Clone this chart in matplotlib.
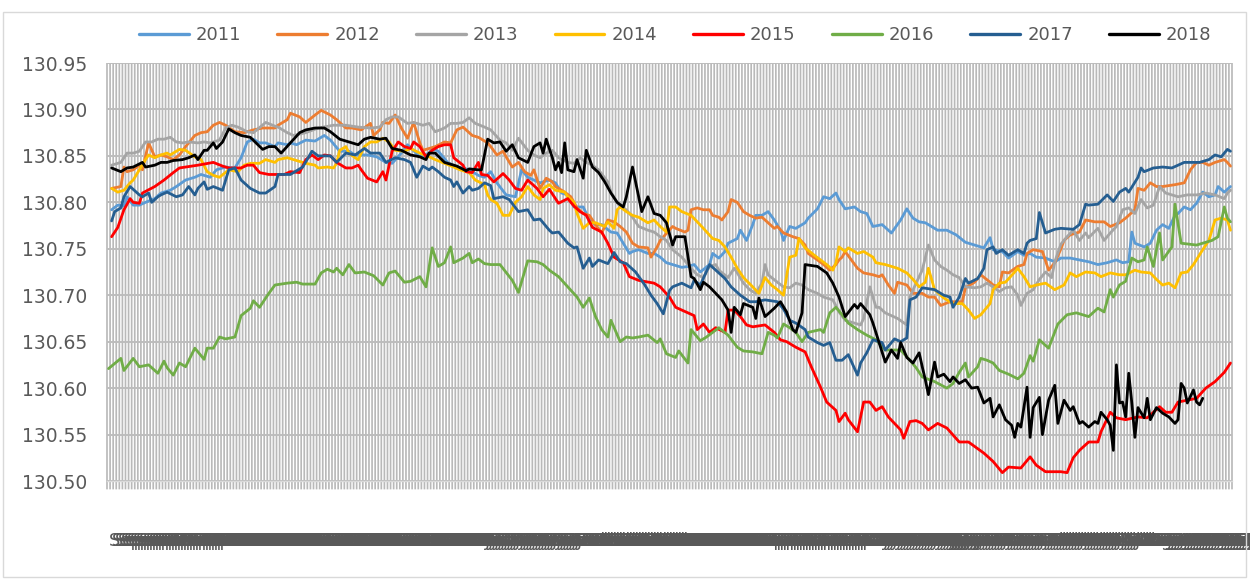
import matplotlib
matplotlib.use("Agg")
import matplotlib.pyplot as plt
from matplotlib.patches import Rectangle
import numpy as np

# ---------------- data (day index within the year, level) ----------------
years = ["2011", "2012", "2013", "2014", "2015", "2016", "2017", "2018"]
colors = ["#5B9BD5", "#ED7D31", "#A5A5A5", "#FFC000", "#FF0000", "#70AD47", "#255E91", "#000000"]

months = ["Sep", "Oct", "Nov", "Dec", "Jan", "Feb", "Mar", "Apr", "May", "Jun", "Jul", "Aug"]
month_days = [30, 31, 30, 31, 31, 28, 31, 30, 31, 30, 31, 31]

y_ticks = [130.50, 130.55, 130.60, 130.65, 130.70, 130.75, 130.80, 130.85, 130.90, 130.95]

s2011 = [(1,130.792),(3,130.797),(5,130.796),(6,130.806),(8,130.797),(10,130.797),(12,130.800),(15,130.804),
         (17,130.810),(20,130.813),(22,130.817),(25,130.824),(28,130.827),(30,130.830),(33,130.827),(35,130.835),
         (38,130.838),(41,130.837),(43,130.848),(45,130.865),(47,130.868),(49,130.864),(51,130.864),(54,130.860),
         (55,130.864),(58,130.862),(59,130.864),(61,130.862),(64,130.867),(67,130.866),(70,130.872),(72,130.867),
         (75,130.855),(78,130.855),(80,130.851),(84,130.851),(87,130.849),(90,130.843),(92,130.842),(95,130.853),
         (97,130.862),(101,130.849),(104,130.853),(105,130.858),(107,130.855),(110,130.843),(113,130.838),(115,130.837),
         (117,130.835),(120,130.829),(122,130.827),(124,130.833),(126,130.821),(129,130.808),(132,130.806),(134,130.835),
         (136,130.827),(138,130.824),(140,130.821),(143,130.824),(145,130.821),(147,130.810),(149,130.808),(151,130.795),
         (154,130.795),(156,130.781),(158,130.776),(160,130.776),(163,130.768),(165,130.767),(167,130.756),(169,130.745),
         (170,130.747),(172,130.749),(175,130.745),(177,130.745),(179,130.741),(181,130.735),(183,130.733),(186,130.730),
         (188,130.731),(190,130.733),(192,130.725),(195,130.733),(196,130.745),(198,130.740),(200,130.747),(201,130.756),
         (204,130.761),(205,130.770),(207,130.759),(209,130.776),(210,130.786),(212,130.786),(214,130.790),(216,130.781),
         (218,130.770),(219,130.759),(221,130.774),(223,130.772),(226,130.778),(227,130.783),(230,130.793),(232,130.806),
         (234,130.804),(236,130.810),(237,130.803),(239,130.793),(242,130.795),(244,130.790),(246,130.788),(248,130.774),
         (251,130.776),(254,130.767),(257,130.781),(259,130.793),(261,130.783),(263,130.779),(265,130.778),(269,130.770),
         (272,130.770),(275,130.765),(278,130.757),(281,130.754),(284,130.751),(286,130.762),(287,130.749),(290,130.747),
         (292,130.740),(295,130.747),(297,130.743),(299,130.745),(301,130.741),(304,130.740),(307,130.736),(309,130.740),
         (312,130.740),(315,130.738),(318,130.736),(321,130.733),(324,130.735),(327,130.738),(329,130.735),(331,130.736),
         (332,130.768),(333,130.756),(336,130.752),(338,130.756),(340,130.770),(342,130.776),(344,130.772),(346,130.786),
         (347,130.788),(349,130.795),(351,130.792),(353,130.799),(355,130.811),(357,130.806),(359,130.808),(360,130.817),
         (362,130.811),(364,130.817)]

s2012 = [(1,130.815),(4,130.817),(5,130.838),(6,130.833),(8,130.835),(10,130.840),(11,130.835),(13,130.864),
         (15,130.849),(17,130.851),(19,130.849),(21,130.846),(23,130.851),(25,130.860),(28,130.872),(30,130.875),
         (32,130.876),(34,130.883),(36,130.886),(38,130.883),(41,130.876),(44,130.875),(47,130.878),(50,130.880),
         (54,130.880),(55,130.883),(58,130.889),(59,130.896),(62,130.892),(64,130.886),(67,130.894),(69,130.899),
         (72,130.894),(74,130.889),(77,130.880),(79,130.880),(82,130.878),(85,130.885),(86,130.872),(88,130.878),
         (89,130.886),(91,130.885),(93,130.894),(95,130.880),(97,130.869),(99,130.886),(101,130.864),(102,130.856),
         (104,130.858),(106,130.860),(109,130.865),(111,130.864),(113,130.878),(115,130.881),(116,130.878),(118,130.872),
         (120,130.870),(123,130.864),(124,130.860),(126,130.851),(128,130.855),(129,130.849),(131,130.838),(133,130.843),
         (135,130.833),(137,130.829),(138,130.835),(140,130.815),(142,130.826),(144,130.822),(145,130.817),(148,130.811),
         (150,130.806),(152,130.794),(154,130.788),(156,130.786),(158,130.776),(160,130.767),(162,130.781),(164,130.779),
         (166,130.774),(168,130.768),(170,130.756),(172,130.752),(175,130.751),(176,130.741),(178,130.752),(179,130.759),
         (183,130.774),(184,130.772),(187,130.768),(188,130.770),(189,130.792),(191,130.794),(193,130.792),(195,130.792),
         (196,130.786),(198,130.784),(199,130.781),(201,130.790),(202,130.803),(204,130.800),(206,130.790),(208,130.786),
         (210,130.783),(212,130.784),(213,130.781),(216,130.772),(217,130.774),(219,130.767),(222,130.763),(224,130.761),
         (226,130.754),(227,130.745),(230,130.738),(232,130.733),(234,130.727),(236,130.733),(237,130.738),(238,130.741),
         (239,130.747),(241,130.738),(243,130.729),(245,130.724),(248,130.722),(250,130.720),(251,130.722),(253,130.711),
         (255,130.702),(256,130.714),(259,130.711),(261,130.702),(264,130.702),(266,130.698),(268,130.698),(270,130.689),
         (273,130.693),(275,130.693),(277,130.693),(278,130.708),(281,130.714),(283,130.722),(286,130.714),(287,130.711),
         (289,130.709),(290,130.725),(292,130.724),(295,130.731),(297,130.733),(298,130.745),(300,130.749),(303,130.747),
         (305,130.727),(307,130.735),(309,130.750),(310,130.759),(312,130.765),(315,130.768),(317,130.781),(320,130.779),
         (323,130.779),(325,130.774),(328,130.778),(330,130.783),(333,130.792),(334,130.815),(336,130.813),(338,130.821),
         (340,130.817),(342,130.817),(346,130.819),(349,130.821),(351,130.835),(353,130.843),(355,130.843),(357,130.840),
         (359,130.843),(362,130.846),(363,130.843),(364,130.839)]

s2013 = [(1,130.840),(4,130.843),(6,130.853),(8,130.853),(10,130.855),(12,130.865),(14,130.865),(16,130.868),
         (18,130.868),(20,130.870),(22,130.865),(24,130.864),(26,130.865),(29,130.864),(31,130.865),(33,130.864),
         (36,130.867),(38,130.880),(40,130.883),(42,130.881),(45,130.876),(47,130.875),(51,130.886),(54,130.882),
         (55,130.881),(58,130.875),(60,130.872),(64,130.875),(68,130.880),(73,130.883),(77,130.883),(81,130.881),
         (85,130.880),(88,130.881),(90,130.889),(92,130.892),(94,130.892),(97,130.885),(99,130.886),(102,130.883),
         (104,130.885),(106,130.876),(109,130.880),(111,130.885),(113,130.885),(115,130.886),(117,130.891),(119,130.885),
         (122,130.881),(124,130.878),(127,130.867),(129,130.864),(131,130.856),(133,130.869),(136,130.856),(138,130.851),
         (140,130.848),(142,130.853),(144,130.856),(146,130.848),(149,130.843),(151,130.842),(153,130.848),(155,130.843),
         (157,130.840),(159,130.835),(162,130.822),(163,130.811),(165,130.800),(166,130.795),(168,130.792),(170,130.784),
         (172,130.774),(175,130.770),(177,130.768),(179,130.763),(181,130.759),(183,130.749),(186,130.741),(189,130.729),
         (191,130.722),(193,130.719),(195,130.731),(197,130.733),(198,130.727),(201,130.719),(203,130.729),(204,130.724),
         (206,130.713),(208,130.706),(210,130.702),(212,130.713),(213,130.733),(214,130.722),(217,130.714),(219,130.709),
         (221,130.708),(223,130.713),(225,130.711),(227,130.706),(230,130.702),(232,130.698),(235,130.695),(237,130.682),
         (239,130.673),(242,130.670),(244,130.668),(245,130.675),(247,130.709),(249,130.687),(250,130.687),(252,130.681),
         (256,130.675),(259,130.668),(260,130.698),(262,130.713),(264,130.727),(266,130.754),(268,130.738),(270,130.731),
         (272,130.727),(274,130.722),(276,130.719),(278,130.709),(281,130.708),(283,130.709),(285,130.713),(287,130.709),
         (289,130.704),(291,130.708),(293,130.709),(295,130.700),(296,130.689),(298,130.702),(300,130.706),(302,130.717),
         (304,130.725),(306,130.719),(307,130.736),(309,130.755),(311,130.763),(313,130.770),(315,130.759),(317,130.767),
         (318,130.762),(321,130.772),(323,130.759),(325,130.767),(327,130.774),(329,130.792),(331,130.794),(333,130.788),
         (335,130.803),(337,130.794),(339,130.797),(341,130.817),(343,130.810),(347,130.806),(350,130.808),(353,130.808),
         (356,130.810),(359,130.808),(362,130.804),(363,130.810),(364,130.813)]

s2014 = [(1,130.815),(3,130.811),(5,130.813),(7,130.821),(8,130.824),(10,130.835),(12,130.846),(13,130.851),
         (15,130.848),(17,130.851),(19,130.853),(20,130.851),(23,130.857),(25,130.856),(28,130.849),(30,130.846),
         (32,130.833),(34,130.829),(36,130.827),(39,130.835),(42,130.833),(44,130.840),(46,130.842),(49,130.842),
         (51,130.846),(54,130.843),(55,130.846),(58,130.848),(60,130.846),(64,130.842),(67,130.840),(68,130.837),
         (71,130.838),(73,130.837),(74,130.842),(75,130.856),(77,130.860),(78,130.853),(80,130.848),(81,130.846),
         (83,130.860),(85,130.865),(87,130.865),(89,130.869),(91,130.865),(93,130.856),(96,130.855),(98,130.858),
         (101,130.853),(104,130.849),(106,130.846),(109,130.842),(112,130.838),(114,130.835),(117,130.832),(119,130.824),
         (122,130.819),(123,130.808),(124,130.803),(126,130.799),(128,130.786),(130,130.786),(132,130.800),(134,130.806),
         (136,130.817),(138,130.808),(140,130.803),(141,130.815),(143,130.819),(145,130.813),(148,130.811),(149,130.806),
         (151,130.800),(152,130.788),(154,130.772),(156,130.778),(158,130.778),(161,130.774),(162,130.779),(164,130.772),
         (165,130.792),(166,130.795),(168,130.790),(170,130.786),(172,130.784),(175,130.778),(177,130.781),(179,130.774),
         (181,130.768),(182,130.795),(184,130.795),(186,130.790),(189,130.786),(191,130.779),(193,130.772),(196,130.761),
         (198,130.759),(200,130.752),(202,130.741),(204,130.729),(206,130.719),(209,130.709),(211,130.702),(213,130.719),
         (215,130.711),(217,130.706),(219,130.700),(221,130.741),(223,130.743),(224,130.761),(226,130.751),(229,130.743),
         (231,130.738),(233,130.733),(235,130.727),(236,130.735),(237,130.752),(239,130.747),(240,130.751),(243,130.745),
         (245,130.747),(248,130.741),(249,130.735),(252,130.733),(256,130.729),(259,130.724),(261,130.717),(263,130.709),
         (265,130.714),(266,130.729),(268,130.706),(271,130.697),(274,130.691),(277,130.691),(279,130.684),(281,130.675),
         (283,130.679),(286,130.691),(287,130.706),(289,130.713),(291,130.714),(294,130.725),(295,130.729),(297,130.720),
         (299,130.709),(301,130.711),(304,130.713),(307,130.706),(310,130.711),(312,130.724),(314,130.720),(317,130.725),
         (320,130.724),(322,130.720),(325,130.724),(328,130.722),(330,130.722),(333,130.727),(335,130.725),(338,130.724),
         (340,130.717),(342,130.711),(344,130.713),(346,130.708),(348,130.724),(350,130.725),(352,130.733),(355,130.749),
         (357,130.759),(359,130.781),(361,130.783),(363,130.781),(364,130.770)]

s2015 = [(1,130.763),(3,130.773),(5,130.792),(7,130.804),(8,130.800),(10,130.799),(11,130.810),(15,130.817),
         (18,130.824),(21,130.832),(23,130.837),(25,130.838),(29,130.840),(34,130.843),(37,130.839),(39,130.837),
         (43,130.837),(45,130.840),(47,130.840),(49,130.832),(52,130.830),(57,130.830),(59,130.833),(62,130.832),
         (64,130.846),(66,130.851),(68,130.846),(70,130.851),(72,130.850),(74,130.843),(77,130.837),(79,130.837),
         (81,130.840),(82,130.835),(84,130.826),(87,130.822),(89,130.833),(90,130.824),(92,130.855),(94,130.865),
         (96,130.860),(98,130.858),(99,130.865),(101,130.860),(103,130.849),(105,130.856),(107,130.860),(109,130.862),
         (111,130.862),(112,130.848),(115,130.840),(116,130.833),(118,130.832),(120,130.843),(121,130.830),(123,130.829),
         (125,130.822),(128,130.831),(130,130.824),(132,130.815),(134,130.813),(136,130.824),(139,130.815),(141,130.806),
         (143,130.814),(145,130.804),(146,130.799),(149,130.804),(151,130.796),(153,130.790),(155,130.786),(157,130.773),
         (160,130.768),(162,130.756),(164,130.741),(167,130.735),(169,130.720),(172,130.716),(177,130.713),(179,130.709),
         (182,130.698),(184,130.687),(188,130.681),(190,130.678),(191,130.663),(193,130.669),(195,130.660),(197,130.665),
         (200,130.660),(201,130.684),(203,130.684),(205,130.677),(207,130.668),(209,130.666),(213,130.668),(216,130.660),
         (218,130.652),(220,130.650),(223,130.644),(226,130.639),(228,130.623),(231,130.601),(233,130.585),(236,130.576),
         (237,130.564),(239,130.573),(240,130.566),(243,130.553),(245,130.585),(247,130.585),(249,130.576),(251,130.580),
         (253,130.569),(257,130.555),(258,130.546),(260,130.564),(262,130.565),(264,130.562),(266,130.555),(269,130.562),
         (272,130.557),(276,130.542),(279,130.542),(284,130.530),(287,130.521),(290,130.509),(292,130.515),(296,130.514),
         (299,130.526),(301,130.517),(304,130.510),(309,130.510),(311,130.509),(313,130.525),(315,130.533),(318,130.542),
         (321,130.542),(322,130.553),(325,130.574),(327,130.568),(330,130.566),(334,130.569),(337,130.568),(341,130.580),
         (343,130.574),(345,130.574),(347,130.585),(350,130.587),(353,130.589),(356,130.600),(359,130.607),(362,130.617),
         (364,130.627)]

s2016 = [(0,130.621),(4,130.632),(5,130.619),(8,130.632),(10,130.623),(13,130.625),(16,130.616),(18,130.629),
         (19,130.622),(21,130.614),(23,130.627),(25,130.623),(28,130.643),(31,130.631),(32,130.643),(34,130.643),
         (36,130.655),(38,130.653),(41,130.655),(43,130.678),(46,130.686),(47,130.694),(49,130.687),(52,130.702),
         (54,130.711),(58,130.713),(61,130.714),(63,130.712),(67,130.712),(69,130.724),(71,130.728),(73,130.725),
         (74,130.729),(76,130.722),(78,130.733),(80,130.724),(83,130.725),(86,130.721),(89,130.711),(91,130.724),
         (93,130.726),(96,130.714),(98,130.715),(101,130.720),(103,130.709),(105,130.751),(107,130.731),(109,130.735),
         (111,130.752),(112,130.735),(115,130.740),(117,130.745),(118,130.735),(120,130.739),(122,130.734),(124,130.733),
         (127,130.733),(131,130.716),(133,130.703),(136,130.737),(139,130.736),(141,130.733),(143,130.727),(146,130.720),
         (149,130.709),(152,130.698),(154,130.687),(156,130.697),(158,130.677),(160,130.663),(162,130.655),(163,130.673),
         (166,130.650),(168,130.655),(170,130.654),(172,130.655),(175,130.657),(178,130.649),(179,130.653),(181,130.637),
         (184,130.633),(185,130.640),(188,130.627),(189,130.663),(192,130.651),(194,130.655),(196,130.660),(198,130.665),
         (201,130.657),(204,130.644),(206,130.640),(209,130.639),(212,130.637),(214,130.660),(216,130.657),(217,130.654),
         (219,130.669),(221,130.665),(223,130.660),(225,130.650),(227,130.660),(231,130.663),(232,130.660),(234,130.681),
         (236,130.687),(238,130.679),(240,130.670),(243,130.663),(246,130.657),(249,130.652),(252,130.641),(257,130.641),
         (260,130.630),(262,130.622),(264,130.612),(268,130.607),(272,130.600),(274,130.605),(276,130.617),(278,130.627),
         (279,130.612),(282,130.623),(283,130.632),(285,130.630),(287,130.627),(289,130.619),(292,130.615),(295,130.610),
         (297,130.616),(299,130.635),(300,130.629),(302,130.652),(305,130.643),(308,130.669),(311,130.679),(314,130.681),
         (318,130.677),(321,130.686),(323,130.682),(325,130.706),(326,130.698),(328,130.711),(330,130.715),(332,130.740),
         (334,130.736),(336,130.738),(337,130.752),(339,130.731),(341,130.767),(342,130.738),(345,130.752),(346,130.798),
         (348,130.756),(353,130.754),(358,130.759),(360,130.763),(362,130.795),(363,130.783),(364,130.779)]

s2017 = [(1,130.780),(2,130.790),(4,130.794),(5,130.806),(7,130.817),(10,130.808),(11,130.806),(13,130.810),
         (14,130.800),(16,130.806),(17,130.808),(19,130.811),(22,130.806),(24,130.808),(26,130.817),(28,130.808),
         (29,130.815),(31,130.822),(32,130.814),(34,130.817),(37,130.813),(39,130.835),(41,130.837),(43,130.824),
         (46,130.815),(49,130.810),(51,130.810),(54,130.817),(55,130.830),(59,130.830),(62,130.836),(63,130.838),
         (66,130.855),(68,130.850),(72,130.850),(74,130.843),(77,130.853),(80,130.851),(83,130.858),(85,130.853),
         (88,130.853),(90,130.843),(93,130.848),(96,130.846),(98,130.843),(100,130.827),(102,130.839),(104,130.835),
         (105,130.838),(107,130.833),(109,130.827),(111,130.824),(112,130.817),(113,130.822),(115,130.810),(117,130.817),
         (118,130.813),(120,130.815),(122,130.821),(124,130.818),(125,130.804),(128,130.806),(130,130.803),(133,130.790),
         (136,130.792),(138,130.781),(140,130.782),(143,130.770),(144,130.767),(146,130.768),(149,130.756),(151,130.751),
         (152,130.752),(154,130.729),(156,130.740),(157,130.731),(159,130.738),(162,130.734),(163,130.740),(164,130.746),
         (166,130.736),(168,130.734),(171,130.725),(174,130.711),(176,130.700),(178,130.691),(180,130.680),(182,130.705),
         (183,130.709),(186,130.713),(189,130.708),(190,130.716),(192,130.711),(195,130.733),(197,130.727),(200,130.718),
         (202,130.709),(205,130.700),(208,130.693),(210,130.693),(213,130.695),(217,130.693),(219,130.685),(221,130.673),
         (223,130.670),(226,130.663),(227,130.655),(230,130.649),(232,130.646),(234,130.649),(236,130.630),(238,130.630),
         (240,130.636),(243,130.614),(244,130.627),(246,130.638),(248,130.652),(251,130.649),(252,130.641),(255,130.653),
         (257,130.650),(259,130.654),(260,130.695),(262,130.698),(264,130.708),(268,130.706),(271,130.700),(273,130.698),
         (274,130.687),(276,130.698),(278,130.718),(279,130.713),(282,130.718),(284,130.729),(285,130.749),(287,130.752),
         (288,130.745),(290,130.749),(292,130.743),(295,130.749),(297,130.745),(298,130.756),(299,130.759),(301,130.761),
         (302,130.789),(304,130.767),(307,130.771),(309,130.772),(313,130.771),(315,130.776),(317,130.798),(318,130.797),
         (321,130.798),(324,130.808),(326,130.801),(328,130.811),(330,130.815),(331,130.811),(334,130.827),(335,130.837),
         (336,130.833),(339,130.837),(342,130.838),(345,130.837),(349,130.843),(351,130.843),(354,130.843),(357,130.846),
         (359,130.851),(361,130.849),(363,130.857),(364,130.855)]

s2018 = [(1,130.837),(4,130.833),(6,130.837),(8,130.838),(11,130.843),(12,130.838),(15,130.840),(17,130.843),
         (19,130.843),(21,130.845),(24,130.846),(26,130.848),(28,130.851),(29,130.846),(31,130.856),(32,130.856),
         (34,130.864),(35,130.858),(37,130.865),(39,130.879),(41,130.875),(43,130.872),(46,130.870),(50,130.857),
         (52,130.860),(54,130.860),(56,130.853),(59,130.864),(62,130.875),(64,130.878),(67,130.880),(70,130.880),
         (72,130.876),(75,130.868),(77,130.866),(81,130.862),(83,130.868),(85,130.870),(88,130.868),(90,130.869),
         (92,130.858),(95,130.856),(98,130.851),(101,130.849),(103,130.846),(104,130.853),(106,130.853),(109,130.843),
         (111,130.841),(113,130.839),(116,130.834),(117,130.836),(120,130.835),(121,130.835),(123,130.868),(125,130.864),
         (127,130.865),(129,130.855),(131,130.862),(133,130.848),(136,130.843),(138,130.860),(140,130.864),(141,130.853),
         (142,130.868),(144,130.848),(145,130.835),(146,130.843),(147,130.832),(148,130.864),(149,130.835),(151,130.833),
         (152,130.846),(154,130.826),(155,130.856),(157,130.838),(159,130.832),(161,130.822),(163,130.810),(165,130.800),
         (167,130.795),(168,130.806),(170,130.838),(171,130.822),(173,130.790),(175,130.806),(177,130.788),(179,130.786),
         (181,130.778),(183,130.754),(184,130.763),(187,130.763),(189,130.720),(190,130.718),(192,130.706),(193,130.714),
         (195,130.709),(197,130.702),(199,130.695),(201,130.684),(202,130.660),(203,130.687),(205,130.679),(206,130.691),
         (209,130.687),(210,130.675),(211,130.697),(213,130.677),(216,130.686),(218,130.693),(220,130.682),(222,130.663),
         (223,130.660),(225,130.681),(226,130.733),(230,130.731),(233,130.724),(235,130.713),(237,130.698),(239,130.677),
         (242,130.690),(243,130.686),(244,130.691),(247,130.679),(248,130.670),(250,130.649),(252,130.628),(254,130.641),
         (256,130.632),(257,130.649),(259,130.633),(261,130.627),(263,130.638),(264,130.623),(265,130.609),(266,130.593),
         (268,130.628),(269,130.612),(271,130.615),(273,130.607),(274,130.612),(276,130.605),(278,130.609),(280,130.600),
         (282,130.601),(284,130.584),(286,130.589),(287,130.569),(289,130.582),(291,130.566),(293,130.560),(294,130.547),
         (295,130.562),(296,130.558),(298,130.601),(299,130.547),(300,130.579),(302,130.590),(303,130.550),(305,130.587),
         (307,130.603),(308,130.562),(310,130.587),(312,130.576),(313,130.580),(315,130.562),(316,130.564),(318,130.558),
         (320,130.564),(321,130.562),(322,130.574),(324,130.566),(325,130.560),(326,130.533),(327,130.625),(328,130.584),
         (329,130.585),(330,130.569),(331,130.616),(332,130.584),(333,130.547),(334,130.579),(336,130.568),(337,130.589),
         (338,130.566),(340,130.579),(342,130.573),(344,130.569),(346,130.562),(347,130.566),(348,130.605),(349,130.600),
         (350,130.584),(352,130.598),(353,130.585),(354,130.582),(355,130.589)]

series = [s2011, s2012, s2013, s2014, s2015, s2016, s2017, s2018]

# category labels (one per day)
x_labels = []
for m, nd in zip(months, month_days):
    for d in range(1, nd + 1):
        x_labels.append(f"{m}-{d:02d}")
n_cat = len(x_labels)

# ---------------- figure ----------------
W, H = 1250, 581
fig = plt.figure(figsize=(W / 100, H / 100), dpi=100)
fig.patch.set_facecolor("white")
fig.patches.append(Rectangle((3 / W, 1 - 577 / H), 1243 / W, 565 / H, transform=fig.transFigure,
                             fill=False, edgecolor="#D9D9D9", linewidth=1.0))

L, R, T, B = 107, 1232, 63, 481
ax = fig.add_axes([L / W, 1 - B / H, (R - L) / W, (B - T) / H])
ax.set_facecolor("white")

# category gridlines: thin un-snapped bars, one per category boundary
# (they run a little below the axis, like Excel's outside tick marks)
cat_pos = np.arange(n_cat + 1) - 0.5
bars = ax.bar(cat_pos, 1.02, width=0.55, bottom=-0.02, color="#B9B9B9", linewidth=0,
              transform=ax.get_xaxis_transform(), zorder=0.5, clip_on=False)
for b in bars:
    b.set_snap(False)
    b.set_antialiased(True)
ax.hlines(y_ticks, 0, 1, transform=ax.get_yaxis_transform(), colors="#BDBDBD",
          linewidth=1.4, zorder=0.6)

for name, col, s in zip(years, colors, series):
    xs = [p[0] for p in s]
    ys = [p[1] for p in s]
    ax.plot(xs, ys, color=col, lw=2.0, label=name, solid_joinstyle="round",
            solid_capstyle="round", zorder=3)

ax.set_xlim(-0.5, n_cat - 0.5)
ax.set_ylim(y_ticks[0], y_ticks[-1])
ax.set_yticks(y_ticks)
ax.set_yticklabels([f"{v:.2f}" for v in y_ticks])

ax.set_xticks(np.arange(n_cat))
ax.set_xticklabels(x_labels, ha="left")

for sp in ["left", "right", "top"]:
    ax.spines[sp].set_visible(False)
ax.spines["bottom"].set_color("#D9D9D9")
ax.spines["bottom"].set_linewidth(1.0)

ax.tick_params(axis="y", length=0, pad=14, labelsize=13.5, labelcolor="#595959")
ax.tick_params(axis="x", direction="out", length=6, width=0, color="#D0D0D0",
               pad=31, labelsize=13, labelcolor="#595959")

leg = ax.legend(loc="center", bbox_to_anchor=(0.505, 1.067), ncol=8, frameon=False,
                fontsize=13, handlelength=2.75, handletextpad=0.4, columnspacing=2.0,
                labelcolor="#595959")
for h in leg.get_lines():
    h.set_linewidth(2.4)

fig.savefig("out.png", dpi=100)
